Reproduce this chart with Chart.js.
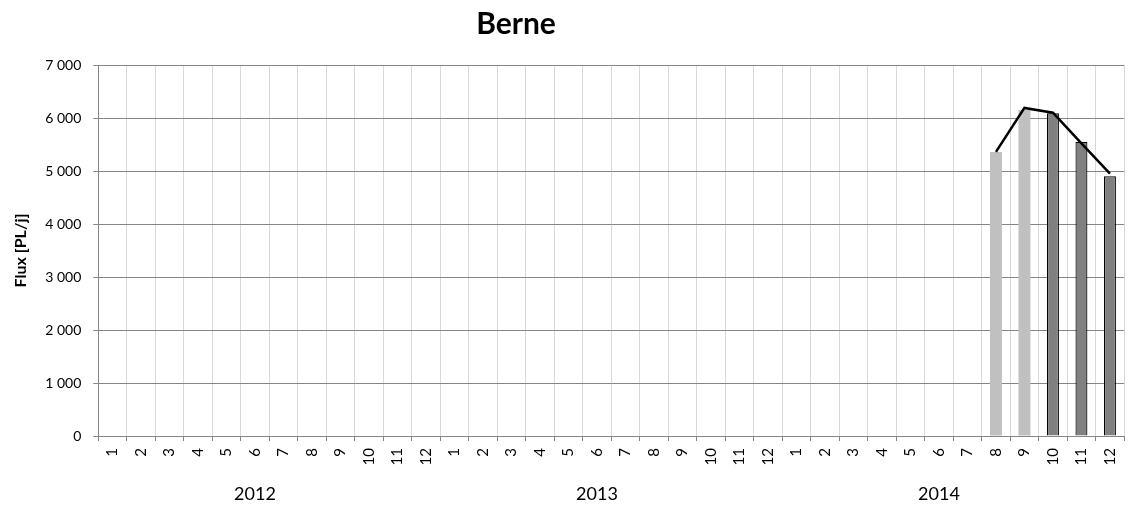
<!DOCTYPE html>
<html>
<head>
<meta charset="utf-8">
<script src="https://cdn.jsdelivr.net/npm/chart.js@4"></script>
<style>
  html, body { margin: 0; padding: 0; background: #fff; overflow: hidden; }
  #wrap { position: relative; width: 1135px; height: 510px; }
  #title {
    position: absolute; left: 416px; width: 200px; top: 4px;
    text-align: center; font: bold 30px Lato, sans-serif; color: #000;
  }
</style>
</head>
<body>
<div id="wrap">
  <div id="title">Berne</div>
  <canvas id="myChart"></canvas>
</div>
<script>
const years = ["2012", "2013", "2014"];
const months = ["1", "2", "3", "4", "5", "6", "7", "8", "9", "10", "11", "12"];
// 2014-08 .. 2014-12
const lightValues = [5360, 6150, null, null, null];
const darkValues = [null, null, 6090, 5550, 4900];
const lineValues = [5360, 6190, 6100, 5520, 4950];
const yTicks = [0, 1000, 2000, 3000, 4000, 5000, 6000, 7000];

const labels = [];
years.forEach((y) => months.forEach((m) => labels.push(y + "-" + m)));
// year label sits under month 6 of each year
const yearLabels = labels.map((l) => (l.endsWith("-6") ? l.split("-")[0] : ""));
const pad = (arr) => Array(labels.length - arr.length).fill(null).concat(arr);

const fmt = (v) => v.toString().replace(/\B(?=(\d{3})+(?!\d))/g, " ");
const font = "Lato";

new Chart("myChart", {
  type: "bar",
  data: {
    labels: labels,
    datasets: [
      {
        type: "line",
        data: pad(lineValues),
        borderColor: "#000000",
        borderWidth: 2.5,
        pointRadius: 0,
        tension: 0,
        fill: false,
        order: 0,
      },
      {
        data: pad(lightValues),
        backgroundColor: "#c0c0c0",
        borderWidth: 0,
        barPercentage: 0.42,
        categoryPercentage: 1,
        order: 1,
      },
      {
        data: pad(darkValues),
        backgroundColor: "#808080",
        borderColor: "#000000",
        borderWidth: 1.2,
        barPercentage: 0.42,
        categoryPercentage: 1,
        order: 1,
      },
    ],
  },
  options: {
    responsive: true,
    maintainAspectRatio: false,
    animation: false,
    layout: { padding: { left: 7, right: 4, top: 65, bottom: -6 } },
    plugins: {
      legend: { display: false },
      tooltip: { enabled: false },
      title: { display: false },
    },
    scales: {
      x: {
        stacked: true,
        offset: true,
        grid: {
          color: "#d9d9d9",
          offset: true,
          tickLength: 5,
          tickColor: "#868686",
        },
        border: { color: "#868686" },
        ticks: {
          autoSkip: false,
          maxRotation: 90,
          minRotation: 90,
          color: "#000",
          font: { family: font, size: 15 },
          padding: 7,
          callback: function (v) {
            return this.getLabelForValue(v).split("-")[1];
          },
        },
      },
      x2: {
        type: "category",
        labels: yearLabels,
        offset: true,
        position: "bottom",
        grid: { display: false, drawTicks: false },
        border: { display: false },
        ticks: {
          autoSkip: false,
          maxRotation: 0,
          color: "#000",
          font: { family: font, size: 18 },
          padding: 11,
        },
      },
      y: {
        stacked: true,
        min: 0,
        max: 7000,
        grid: {
          color: "#868686",
          tickLength: 5,
          tickColor: "#868686",
        },
        border: { color: "#868686" },
        afterBuildTicks: (axis) => {
          axis.ticks = yTicks.map((v) => ({ value: v }));
        },
        ticks: {
          color: "#000",
          font: { family: font, size: 14 },
          padding: 12,
          callback: (v) => fmt(v),
        },
        title: {
          display: true,
          text: "Flux [PL/j]",
          color: "#000",
          font: { family: font, size: 16, weight: "bold" },
          padding: { top: 4, bottom: 3 },
        },
      },
    },
  },
});
</script>
</body>
</html>
